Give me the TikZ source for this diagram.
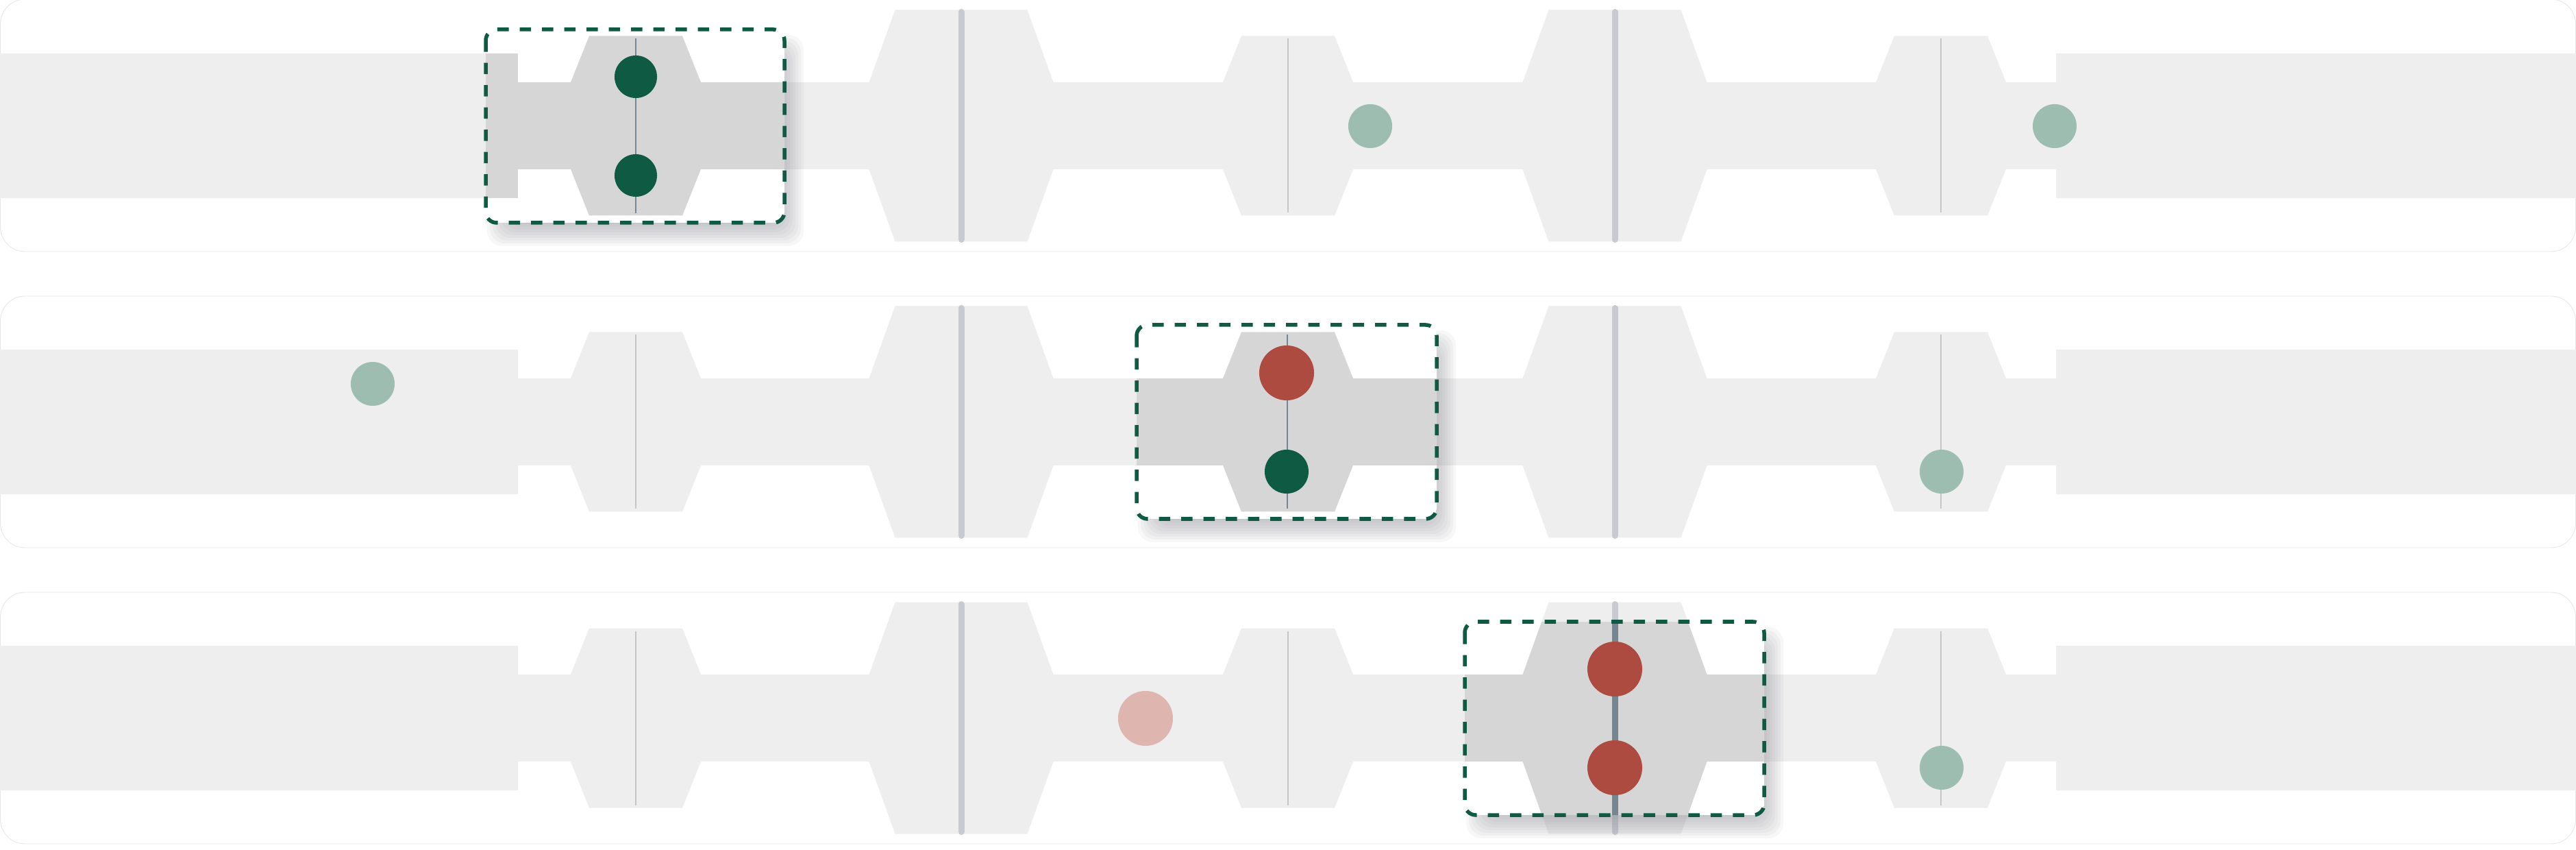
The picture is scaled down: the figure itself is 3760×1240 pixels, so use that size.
\documentclass[tikz,border=0pt]{standalone}
\usetikzlibrary{calc}
\definecolor{bandc}{HTML}{EEEEEE}
\definecolor{inboxc}{HTML}{D6D6D6}
\definecolor{axisbig}{HTML}{C9CACF}
\definecolor{axissmall}{HTML}{C6C6C6}
\definecolor{slate}{HTML}{758591}
\definecolor{dkgreen}{HTML}{0E5A42}
\definecolor{redc}{HTML}{AD4B41}
\definecolor{palegreen}{HTML}{9DBDB1}
\definecolor{palered}{HTML}{DFB5B0}
\definecolor{shadowc}{HTML}{8E9199}
\definecolor{panelc}{HTML}{E6E6E6}

\newcommand\lensS[2]{\fill (#1-68,#2-131) -- (#1+68,#2-131) -- (#1+95,#2-63.5) -- (#1+95,#2+63.5) -- (#1+68,#2+131) -- (#1-68,#2+131) -- (#1-95,#2+63.5) -- (#1-95,#2-63.5) -- cycle;}
\newcommand\lensL[2]{\fill (#1-96.5,#2-169) -- (#1+96.5,#2-169) -- (#1+134.5,#2-63.5) -- (#1+134.5,#2+63.5) -- (#1+96.5,#2+169) -- (#1-96.5,#2+169) -- (#1-134.5,#2+63.5) -- (#1-134.5,#2-63.5) -- cycle;}
\newcommand\rowgeom[1]{%
  \fill (0,#1-105.5) rectangle (756,#1+105.5);
  \fill (756,#1-63.5) rectangle (3001,#1+63.5);
  \fill (3001,#1-105.5) rectangle (3760,#1+105.5);
  \lensS{928}{#1}\lensL{1403}{#1}\lensS{1880}{#1}\lensL{2357}{#1}\lensS{2833}{#1}}
\newcommand\boxshadow[4]{%
  \foreach \k in {0,...,9}{%
    \pgfmathsetmacro\e{4*\k-22}%
    \fill[shadowc, opacity=0.07, rounded corners=0.22cm]
      (#1+16-\e,#2+22-\e) rectangle (#3+14+\e,#4+20+\e);}}

\tikzset{
  panel/.style={draw=panelc, line width=0.25pt, rounded corners=0.36cm},
  bigaxis/.style={draw=axisbig, line width=0.09cm, line cap=round},
  smallaxis/.style={draw=axissmall, line width=0.02cm},
  boxborder/.style={draw=dkgreen, line width=0.055cm, dash pattern=on 0.165cm off 0.16cm, rounded corners=0.16cm},
  mydot/.style={circle, inner sep=0pt, draw=none, minimum size=#1},
}

\begin{document}
\begin{tikzpicture}[x=0.01cm, y=-0.01cm]
\useasboundingbox (0,0) rectangle (3760,1240);
\fill[white] (0,0) rectangle (3760,1240);

% panels
\draw[panel] (0.5,-1) rectangle (3759.5,367);
\draw[panel] (0.5,432) rectangle (3759.5,799);
\draw[panel] (0.5,864) rectangle (3759.5,1231);

% optical rows
\begin{scope}[fill=bandc]
  \rowgeom{183.5}
  \rowgeom{615.5}
  \rowgeom{1047.5}
\end{scope}
\foreach \cy in {183.5,615.5,1047.5}{
  \foreach \cx in {1403,2357} \draw[bigaxis] (\cx,\cy-166) -- (\cx,\cy+166);
  \foreach \cx in {928,1880,2833} \draw[smallaxis] (\cx,\cy-127) -- (\cx,\cy+127);
}

% free dots
\node[mydot=0.64cm, fill=palegreen] (p1) at (2000,184) {};
\node[mydot=0.64cm, fill=palegreen] (p2) at (2999,184) {};
\node[mydot=0.64cm, fill=palegreen] (p3) at (544,560) {};
\node[mydot=0.64cm, fill=palegreen] (p4) at (2834,688) {};
\node[mydot=0.80cm, fill=palered] (p5) at (1672,1048) {};
\node[mydot=0.64cm, fill=palegreen] (p6) at (2834,1120) {};

% shadows
\boxshadow{709}{43}{1145}{325}
\boxshadow{1659}{474}{2097}{757}
\boxshadow{2138}{907}{2575}{1189}

% box 1
\begin{scope}
  \clip[rounded corners=0.16cm] (709,43) rectangle (1145,325);
  \fill[white] (709,43) rectangle (1145,325);
  \begin{scope}[fill=inboxc] \rowgeom{183.5} \end{scope}
  \draw[slate, line width=0.025cm] (928,56) -- (928,311);
\end{scope}
\node[mydot=0.62cm, fill=dkgreen] (a1) at (928,112) {};
\node[mydot=0.62cm, fill=dkgreen] (a2) at (928,256) {};
\draw[boxborder] (709,43) rectangle (1145,325);

% box 2
\begin{scope}
  \clip[rounded corners=0.16cm] (1659,474) rectangle (2097,757);
  \fill[white] (1659,474) rectangle (2097,757);
  \begin{scope}[fill=inboxc] \rowgeom{615.5} \end{scope}
  \draw[slate, line width=0.025cm] (1879,488) -- (1879,742);
\end{scope}
\node[mydot=0.80cm, fill=redc] (b1) at (1878,544) {};
\node[mydot=0.64cm, fill=dkgreen] (b2) at (1878,688) {};
\draw[boxborder] (1659,474) rectangle (2097,757);

% box 3
\begin{scope}
  \clip[rounded corners=0.16cm] (2138,907) rectangle (2575,1189);
  \fill[white] (2138,907) rectangle (2575,1189);
  \begin{scope}[fill=inboxc] \rowgeom{1047.5} \end{scope}
  \draw[slate, line width=0.09cm] (2357,870) -- (2357,1225);
\end{scope}
\node[mydot=0.80cm, fill=redc] (c1) at (2357,976) {};
\node[mydot=0.80cm, fill=redc] (c2) at (2357,1120) {};
\draw[boxborder] (2138,907) rectangle (2575,1189);
\end{tikzpicture}
\end{document}
